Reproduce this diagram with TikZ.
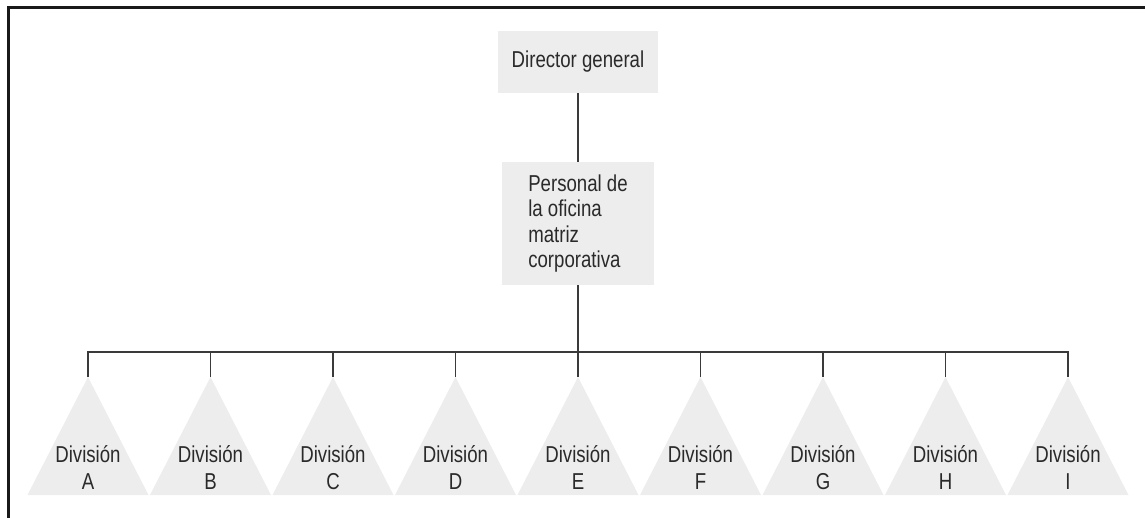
\documentclass[tikz,border=0pt]{standalone}
\usepackage{fontspec}
\setmainfont{Liberation Sans}[FakeStretch=0.81]
\begin{document}
\definecolor{boxfill}{HTML}{EDEDED}
\definecolor{linegray}{HTML}{3A3A3A}
\definecolor{txt}{HTML}{2A2A2A}
\begin{tikzpicture}[x=1pt,y=-1pt,
  orgbox/.style={fill=boxfill, draw=none, inner sep=0pt, font=\fontsize{23}{25.4}\selectfont, text=txt},
  tri/.style={fill=boxfill, draw=none},
  divlabel/.style={align=center, anchor=base, inner sep=0pt, font=\fontsize{23}{26.6}\selectfont, text=txt},
  conn/.style={draw=linegray, line width=1.3pt},
  frame/.style={draw=black!90, line width=3pt}]
\useasboundingbox (0,0) rectangle (1145,518);
% frame (top and left only)
\draw[frame] (1145,7.5) -- (8.5,7.5) -- (8.5,518);
% boxes
\node[orgbox, minimum width=160pt, minimum height=62pt] (dir) at (578,62) {Director general};
\node[orgbox, minimum width=152pt, minimum height=123pt, align=left] (pers) at (578,223.5)
  {Personal de\\la oficina\\matriz\\corporativa};
\coordinate (bar) at (578,352);
\draw[conn] (dir) -- (pers);
\draw[conn] (pers) -- (bar);
% divisions
\foreach \L [count=\i from 0] in {A,B,C,D,E,F,G,H,I}{
  \pgfmathsetmacro{\cx}{88+122.5*\i}
  \coordinate (apex\L) at (\cx,377);
  \path[tri] (apex\L) -- (\cx-60.5,495) -- (\cx+60.5,495) -- cycle;
  \node[divlabel] (lab\L) at (\cx,489.3) {División\\\L};
  \draw[conn] (apex\L) |- (bar);
}
\end{tikzpicture}
\end{document}
